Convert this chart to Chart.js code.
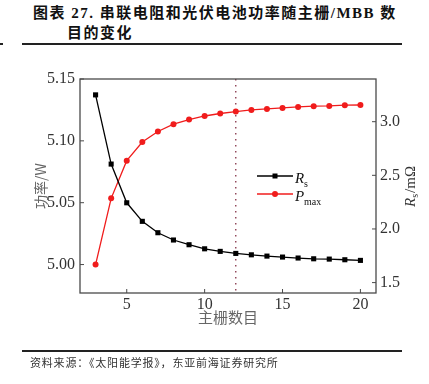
<!DOCTYPE html>
<html>
<head>
<meta charset="utf-8">
<script src="https://cdn.jsdelivr.net/npm/chart.js@4.4.0/dist/chart.umd.min.js"></script>
<style>
    html, body { margin: 0; padding: 0; background: #fff; }
    #wrap { position: relative; width: 429px; height: 384px; overflow: hidden; }
    #chart { position: absolute; left: 0; top: 0; }
    .title {
        position: absolute;
        font-family: "Liberation Serif", "Noto Sans CJK SC", serif;
        font-weight: bold;
        font-size: 15px;
        line-height: 18px;
        color: #111;
        white-space: nowrap;
        letter-spacing: 1.5px;
    }
    .rule { position: absolute; height: 2px; background: #222; }
    .source {
        position: absolute;
        left: 30px;
        top: 354px;
        font-family: "Noto Sans CJK SC", sans-serif;
        font-size: 11px;
        line-height: 16px;
        letter-spacing: 0.8px;
        color: #333;
        white-space: nowrap;
    }
</style>
</head>
<body>
<div id="wrap">
    <div class="title" style="left:33px; top:4px;">图表 27. 串联电阻和光伏电池功率随主栅/MBB 数</div>
    <div class="title" style="left:67px; top:24px;">目的变化</div>
    <div class="rule" style="left:0; top:43px; width:3px;"></div>
    <div class="rule" style="left:22px; top:43px; width:380px;"></div>
    <canvas id="chart" width="429" height="384"></canvas>
    <div class="rule" style="left:22px; top:350px; width:380px;"></div>
    <div class="source">资料来源：《太阳能学报》，东亚前海证券研究所</div>
</div>

<script>
// 数据
const gridCounts = [3, 4, 5, 6, 7, 8, 9, 10, 11, 12, 13, 14, 15, 16, 17, 18, 19, 20];
const rsValues = [3.25, 2.605, 2.244, 2.071, 1.965, 1.897, 1.853, 1.815, 1.791, 1.772,
                  1.759, 1.747, 1.738, 1.729, 1.722, 1.719, 1.713, 1.707];
const pmaxValues = [5.000, 5.0535, 5.084, 5.099, 5.1076, 5.1135, 5.1172, 5.1201, 5.1221, 5.1237,
                    5.125, 5.1258, 5.1266, 5.1274, 5.128, 5.1282, 5.1288, 5.129];
const xTicks = [5, 10, 15, 20];
const powerTicks = [5.00, 5.05, 5.10, 5.15];
const rsTicks = [1.5, 2.0, 2.5, 3.0];
const markerCount = 12;

const RED = '#f01c1c';
const FRAME = '#4a4a4a';
const tickFont = { family: 'Liberation Serif', size: 16 };

document.addEventListener('DOMContentLoaded', () => {
    try {
        initChart();
    } catch (error) {
        console.error('Error initializing chart:', error);
    }
});

// 边框、向内刻度、虚线、图例和右轴标题
const decorPlugin = {
    id: 'decor',
    beforeDatasetsDraw(chart) {
        const { ctx, chartArea: a, scales } = chart;
        const x = scales.x.getPixelForValue(markerCount);
        ctx.save();
        ctx.strokeStyle = '#7a2038';
        ctx.lineWidth = 1.2;
        ctx.setLineDash([1.5, 4.5]);
        ctx.beginPath();
        ctx.moveTo(x, a.top);
        ctx.lineTo(x, a.bottom);
        ctx.stroke();
        ctx.restore();
    },
    afterDraw(chart) {
        const { ctx, chartArea: a, scales } = chart;
        ctx.save();
        ctx.strokeStyle = FRAME;
        ctx.lineWidth = 1.3;
        ctx.strokeRect(a.left, a.top, a.right - a.left, a.bottom - a.top);

        ctx.lineWidth = 1;
        ctx.beginPath();
        powerTicks.forEach(v => {
            const y = scales.yP.getPixelForValue(v);
            ctx.moveTo(a.left, y);
            ctx.lineTo(a.left + 4, y);
        });
        rsTicks.forEach(v => {
            const y = scales.yR.getPixelForValue(v);
            ctx.moveTo(a.right, y);
            ctx.lineTo(a.right - 4, y);
        });
        xTicks.forEach(v => {
            const px = scales.x.getPixelForValue(v);
            ctx.moveTo(px, a.bottom);
            ctx.lineTo(px, a.bottom - 4);
        });
        ctx.stroke();

        // 图例
        const legendItems = [
            { main: 'R', sub: 's', color: '#000', style: 'rect', y: 176 },
            { main: 'P', sub: 'max', color: RED, style: 'circle', y: 194 }
        ];
        legendItems.forEach(item => {
            ctx.strokeStyle = item.color;
            ctx.fillStyle = item.color;
            ctx.lineWidth = 1.3;
            ctx.beginPath();
            ctx.moveTo(257, item.y);
            ctx.lineTo(293, item.y);
            ctx.stroke();
            ctx.beginPath();
            if (item.style === 'rect') {
                ctx.rect(272.5, item.y - 2.5, 5, 5);
            } else {
                ctx.arc(275, item.y, 3, 0, Math.PI * 2);
            }
            ctx.fill();
            ctx.fillStyle = '#111';
            ctx.textAlign = 'left';
            ctx.textBaseline = 'alphabetic';
            ctx.font = 'italic 15px "Liberation Serif"';
            ctx.fillText(item.main, 295, item.y + 7);
            ctx.font = '10px "Liberation Serif"';
            ctx.fillText(item.sub, 304, item.y + 11);
        });

        // 右轴标题 Rs/mΩ
        ctx.translate(415, 207);
        ctx.rotate(-Math.PI / 2);
        ctx.fillStyle = '#333';
        ctx.textBaseline = 'alphabetic';
        ctx.font = 'italic 15px "Liberation Serif"';
        ctx.fillText('R', 0, 0);
        let w = ctx.measureText('R').width;
        ctx.font = '10px "Liberation Serif"';
        ctx.fillText('s', w, 3);
        w += ctx.measureText('s').width + 1;
        ctx.font = '15px "Liberation Serif"';
        ctx.fillText('/mΩ', w, 0);
        ctx.restore();
    }
};

function initChart() {
    const ctx = document.getElementById('chart');

    new Chart(ctx, {
        type: 'line',
        data: {
            datasets: [{
                label: 'Rs',
                data: gridCounts.map((g, i) => ({ x: g, y: rsValues[i] })),
                yAxisID: 'yR',
                borderColor: '#000',
                backgroundColor: '#000',
                borderWidth: 1.3,
                pointStyle: 'rect',
                pointRadius: 3.6,
                pointBorderWidth: 0,
                tension: 0
            }, {
                label: 'Pmax',
                data: gridCounts.map((g, i) => ({ x: g, y: pmaxValues[i] })),
                yAxisID: 'yP',
                borderColor: RED,
                backgroundColor: RED,
                borderWidth: 1.3,
                pointStyle: 'circle',
                pointRadius: 3,
                pointBorderWidth: 0,
                tension: 0
            }]
        },
        options: {
            responsive: false,
            animation: false,
            layout: { padding: { left: 0, right: 0, top: 79, bottom: 58 } },
            scales: {
                x: {
                    type: 'linear',
                    position: 'bottom',
                    min: 2,
                    max: 21,
                    afterBuildTicks: s => { s.ticks = xTicks.map(v => ({ value: v })); },
                    afterFit: s => { s.height = 33; },
                    grid: { display: false, drawTicks: false },
                    border: { display: false },
                    ticks: { font: tickFont, color: '#333', padding: 2 },
                    title: {
                        display: true,
                        text: '主栅数目',
                        color: '#666',
                        font: { family: 'Noto Sans CJK SC', size: 15 },
                        padding: { top: 0, bottom: 0 }
                    }
                },
                yP: {
                    type: 'linear',
                    position: 'left',
                    min: 4.977,
                    max: 5.15,
                    afterBuildTicks: s => { s.ticks = powerTicks.map(v => ({ value: v })); },
                    afterFit: s => { s.width = 80; },
                    grid: { display: false, drawTicks: false },
                    border: { display: false },
                    ticks: {
                        font: tickFont,
                        color: '#333',
                        padding: 5,
                        callback: v => v.toFixed(2)
                    },
                    title: {
                        display: true,
                        text: '功率/W',
                        color: '#666',
                        font: { family: 'Noto Sans CJK SC', size: 14 },
                        padding: { top: 32, bottom: 0 }
                    }
                },
                yR: {
                    type: 'linear',
                    position: 'right',
                    min: 1.403,
                    max: 3.398,
                    afterBuildTicks: s => { s.ticks = rsTicks.map(v => ({ value: v })); },
                    afterFit: s => { s.width = 53; },
                    grid: { display: false, drawTicks: false },
                    border: { display: false },
                    ticks: {
                        font: tickFont,
                        color: '#333',
                        padding: 4,
                        callback: v => v.toFixed(1)
                    }
                }
            },
            plugins: {
                legend: { display: false },
                tooltip: { enabled: false }
            }
        },
        plugins: [decorPlugin]
    });
}
</script>
</body>
</html>
